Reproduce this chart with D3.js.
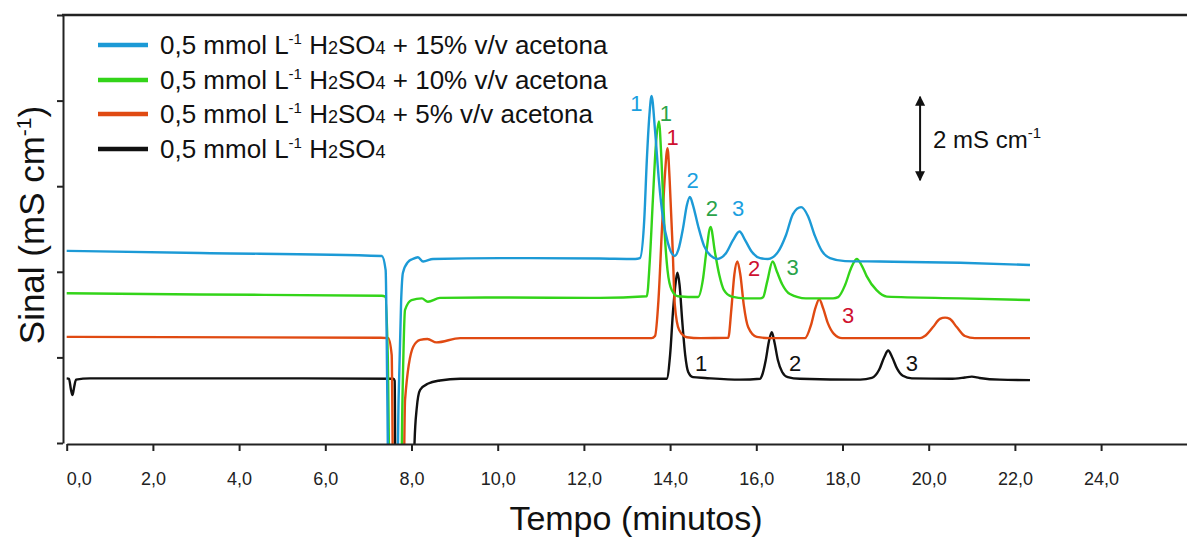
<!DOCTYPE html>
<html>
<head>
<meta charset="utf-8">
<script src="https://cdn.jsdelivr.net/npm/d3@7"></script>
<style>
  html, body { margin: 0; padding: 0; background: #fff; }
  svg { display: block; font-family: "Liberation Sans", Arial, sans-serif; }
</style>
</head>
<body>
<svg id="chart" width="1187" height="539"></svg>
<script>
// series: [tempo (min), sinal (mS cm-1)]
const seriesNames = [
  '+ 15% v/v acetona',
  '+ 10% v/v acetona',
  '+ 5% v/v acetona',
  ''
];
const seriesColors = ['#1c9ad6', '#33d419', '#e04a12', '#111111'];
const labelColors = ['#1aa0df', '#2aa34a', '#cf1030', '#111111'];

const blue15 = [
  [0, 4.49], [3.09, 4.44], [7.31, 4.37], [7.40, 4.04], [7.44, 1.0], [7.47, -1.5],
  [7.66, -1.5], [7.70, 1.0], [7.76, 3.34], [7.80, 3.97], [7.92, 4.23], [8.03, 4.30],
  [8.15, 4.34], [8.27, 4.24], [8.50, 4.30], [10.05, 4.32], [12.37, 4.31], [13.19, 4.30],
  [13.30, 4.32], [13.40, 5.21], [13.46, 6.61], [13.52, 7.66], [13.57, 8.11],
  [13.65, 7.31], [13.74, 6.14], [13.84, 5.21], [13.95, 4.67], [14.11, 4.37],
  [14.19, 4.51], [14.30, 5.02], [14.39, 5.56], [14.46, 5.75], [14.53, 5.56],
  [14.65, 5.07], [14.79, 4.60], [14.95, 4.37], [15.09, 4.30],
  [15.30, 4.44], [15.46, 4.74], [15.61, 4.94], [15.74, 4.74], [15.90, 4.46],
  [16.09, 4.32], [16.27, 4.30],
  [16.50, 4.46], [16.69, 4.86], [16.85, 5.35], [17.04, 5.51], [17.20, 5.30],
  [17.36, 4.84], [17.52, 4.49], [17.71, 4.32], [18.06, 4.25], [18.87, 4.24],
  [20.73, 4.21], [22.35, 4.16]
];

const green10 = [
  [0, 3.50], [3.09, 3.47], [7.31, 3.44], [7.39, 3.42], [7.45, 2.0], [7.50, -1.5],
  [7.75, -1.5], [7.79, 1.0], [7.85, 3.11], [8.00, 3.34], [8.24, 3.38], [8.38, 3.30],
  [8.66, 3.39], [10.05, 3.40], [12.37, 3.39], [13.46, 3.43],
  [13.53, 4.28], [13.60, 5.68], [13.67, 6.96], [13.74, 7.51], [13.80, 6.61],
  [13.87, 4.98], [13.94, 4.04], [14.04, 3.57], [14.18, 3.43], [14.65, 3.41],
  [14.76, 3.81], [14.84, 4.46], [14.94, 5.05], [15.04, 4.46], [15.14, 3.93],
  [15.25, 3.57], [15.43, 3.42], [15.74, 3.38], [16.09, 3.38],
  [16.16, 3.41], [16.25, 3.76], [16.38, 4.24], [16.48, 4.00], [16.60, 3.71],
  [16.78, 3.48], [17.15, 3.38], [17.78, 3.38],
  [17.90, 3.41], [18.06, 3.69], [18.20, 4.09], [18.33, 4.30], [18.45, 4.14],
  [18.56, 3.90], [18.79, 3.57], [19.03, 3.42], [20.73, 3.38], [22.35, 3.34]
];

const orange5 = [
  [0, 2.48], [7.29, 2.46], [7.46, 2.45], [7.54, 2.06], [7.58, -1.5], [7.81, -1.5],
  [7.85, 1.0], [8.04, 2.25], [8.20, 2.41], [8.37, 2.43], [8.58, 2.35], [9.13, 2.45],
  [12.37, 2.45], [13.57, 2.45],
  [13.65, 2.50], [13.73, 3.34], [13.81, 4.98], [13.88, 6.26], [13.94, 6.89],
  [13.99, 6.14], [14.06, 4.51], [14.11, 3.22], [14.21, 2.64], [14.39, 2.47],
  [14.70, 2.45], [15.35, 2.46],
  [15.42, 3.11], [15.49, 3.93], [15.56, 4.24], [15.63, 3.93], [15.71, 3.22],
  [15.81, 2.71], [16.01, 2.48], [16.32, 2.45], [17.13, 2.45],
  [17.27, 2.76], [17.37, 3.15], [17.46, 3.36], [17.55, 3.15], [17.66, 2.80],
  [17.80, 2.55], [17.99, 2.45], [19.80, 2.45],
  [19.91, 2.50], [20.10, 2.71], [20.26, 2.90], [20.38, 2.93], [20.49, 2.90],
  [20.65, 2.71], [20.84, 2.50], [21.07, 2.45], [22.35, 2.45]
];

const black0 = [
  [0, 1.51], [0.053, 1.50], [0.10, 1.24], [0.135, 1.12], [0.17, 1.29], [0.216, 1.48],
  [0.54, 1.51], [5.42, 1.51], [7.58, 1.50], [7.61, 1.45], [7.63, -1.5],
  [8.05, -1.5], [8.07, 0.0], [8.12, 0.8], [8.20, 1.24], [8.39, 1.39], [8.66, 1.46],
  [9.13, 1.50], [12.37, 1.50], [13.92, 1.50],
  [14.00, 2.06], [14.07, 3.11], [14.13, 3.76], [14.17, 3.98], [14.22, 3.69],
  [14.28, 2.87], [14.35, 2.06], [14.42, 1.66], [14.53, 1.54], [14.81, 1.52],
  [15.62, 1.48], [16.09, 1.50],
  [16.13, 1.57], [16.22, 1.94], [16.29, 2.36], [16.36, 2.59], [16.42, 2.36],
  [16.50, 1.94], [16.60, 1.66], [16.73, 1.54], [17.01, 1.50], [18.41, 1.48],
  [18.68, 1.52], [18.85, 1.71], [18.97, 2.01], [19.06, 2.16], [19.15, 2.01],
  [19.27, 1.73], [19.40, 1.57], [19.61, 1.51], [20.50, 1.50], [20.84, 1.53],
  [21.00, 1.55], [21.18, 1.52], [21.65, 1.48], [22.35, 1.47]
];

const allSeries = [blue15, green10, orange5, black0];

// peak numbers: [tempo, sinal, text, series index]
const peakLabels = [
  [13.22, 7.76, '1', 0], [14.52, 5.96, '2', 0], [15.58, 5.30, '3', 0],
  [13.90, 7.52, '1', 1], [14.97, 5.30, '2', 1], [16.84, 3.93, '3', 1],
  [14.06, 6.96, '1', 2], [15.95, 3.90, '2', 2], [18.13, 2.80, '3', 2],
  [14.72, 1.68, '1', 3], [16.90, 1.68, '2', 3], [19.61, 1.68, '3', 3]
];

const xTicks = [0, 2, 4, 6, 8, 10, 12, 14, 16, 18, 20, 22, 24];
const yTicks = [0, 2, 4, 6, 8, 10];
const scaleBar = { t: 19.80, from: 6.14, to: 8.09 };

const svg = d3.select('#chart');
const W = 1187, H = 539;
const plot = { left: 63, top: 15, bottom: 443 };

const x = d3.scaleLinear().domain([0, 26.3]).range([66.7, 66.7 + 26.3 * 43.1]);
const y = d3.scaleLinear().domain([0, 10]).range([plot.bottom, plot.top]);

svg.append('defs').append('clipPath').attr('id', 'clip')
  .append('rect')
  .attr('x', plot.left).attr('y', plot.top)
  .attr('width', W - plot.left).attr('height', plot.bottom - plot.top + 1);

// traces
const line = d3.line()
  .x(d => x(d[0]))
  .y(d => y(d[1]))
  .curve(d3.curveMonotoneX);

const traces = svg.append('g').attr('clip-path', 'url(#clip)');
// black first so the coloured lines sit above it
[3, 2, 1, 0].forEach(i => {
  traces.append('path')
    .datum(allSeries[i])
    .attr('fill', 'none')
    .attr('stroke', seriesColors[i])
    .attr('stroke-width', 2.4)
    .attr('stroke-linejoin', 'round')
    .attr('d', line);
});

// axes
const xAxis = svg.append('g')
  .attr('transform', `translate(0, ${plot.bottom + 1})`)
  .call(d3.axisBottom(x)
    .tickValues(xTicks)
    .tickSize(7)
    .tickSizeOuter(0)
    .tickPadding(21)
    .tickFormat(d => d.toFixed(1).replace('.', ',')));
xAxis.select('.domain').attr('stroke', '#222').attr('stroke-width', 2);
xAxis.selectAll('.tick line').attr('stroke', '#222').attr('stroke-width', 2);
xAxis.selectAll('.tick text')
  .attr('fill', '#222')
  .style('font-size', '18px')
  .style('font-family', '"Liberation Sans", Arial, sans-serif')
  .attr('dx', d => d === 0 ? 12 : 0);

const yAxis = svg.append('g')
  .attr('transform', `translate(${plot.left}, 0)`)
  .call(d3.axisLeft(y).tickValues(yTicks).tickSize(6).tickSizeOuter(0).tickFormat(''));
yAxis.select('.domain').attr('stroke', '#222').attr('stroke-width', 2);
yAxis.selectAll('.tick line').attr('stroke', '#222').attr('stroke-width', 2);

// top frame
svg.append('line')
  .attr('x1', plot.left - 1).attr('x2', W)
  .attr('y1', plot.top).attr('y2', plot.top)
  .attr('stroke', '#222').attr('stroke-width', 2.5);

// axis titles
svg.append('text')
  .attr('x', 636).attr('y', 530)
  .attr('text-anchor', 'middle')
  .style('font-size', '34px')
  .attr('fill', '#111')
  .text('Tempo (minutos)');

const yTitle = svg.append('text')
  .attr('transform', 'translate(44, 225) rotate(-90)')
  .attr('text-anchor', 'middle')
  .style('font-size', '35px')
  .attr('fill', '#111');
yTitle.append('tspan').text('Sinal (mS cm');
yTitle.append('tspan').attr('dy', -13).style('font-size', '21px').text('-1');
yTitle.append('tspan').attr('dy', 13).text(')');

// peak numbers
svg.append('g').selectAll('text')
  .data(peakLabels)
  .join('text')
  .attr('x', d => x(d[0]))
  .attr('y', d => y(d[1]))
  .attr('text-anchor', 'middle')
  .style('font-size', '22px')
  .attr('fill', d => labelColors[d[3]])
  .text(d => d[2]);

// scale bar 2 mS cm-1
const bx = x(scaleBar.t);
svg.append('defs').html(`
  <marker id="arr" viewBox="0 0 10 10" refX="9" refY="5" markerWidth="5" markerHeight="5" orient="auto-start-reverse">
    <path d="M0,0 L10,5 L0,10 z" fill="#111"/>
  </marker>`);
svg.append('line')
  .attr('x1', bx).attr('x2', bx)
  .attr('y1', y(scaleBar.from)).attr('y2', y(scaleBar.to))
  .attr('stroke', '#111').attr('stroke-width', 2)
  .attr('marker-start', 'url(#arr)').attr('marker-end', 'url(#arr)');
const sb = svg.append('text')
  .attr('x', bx + 13).attr('y', 148)
  .style('font-size', '24px')
  .attr('fill', '#111');
sb.append('tspan').text('2 mS cm');
sb.append('tspan').attr('dy', -10).style('font-size', '15px').text('-1');

// legend
const legend = svg.append('g');
const rowsY = [45, 80, 114, 149];
allSeries.forEach((s, i) => {
  const gy = rowsY[i];
  legend.append('line')
    .attr('x1', 98).attr('x2', 148)
    .attr('y1', gy).attr('y2', gy)
    .attr('stroke', seriesColors[i]).attr('stroke-width', 4.5);
  const t = legend.append('text')
    .attr('x', 160).attr('y', gy + 9)
    .style('font-size', '26px')
    .attr('fill', '#111');
  t.append('tspan').text('0,5 mmol L');
  t.append('tspan').attr('dy', -10).style('font-size', '15px').text('-1');
  t.append('tspan').attr('dy', 10).text(' H');
  t.append('tspan').style('font-size', '18px').text('2');
  t.append('tspan').text('SO');
  t.append('tspan').style('font-size', '18px').text('4');
  if (seriesNames[i]) t.append('tspan').text(' ' + seriesNames[i]);
});
</script>
</body>
</html>
